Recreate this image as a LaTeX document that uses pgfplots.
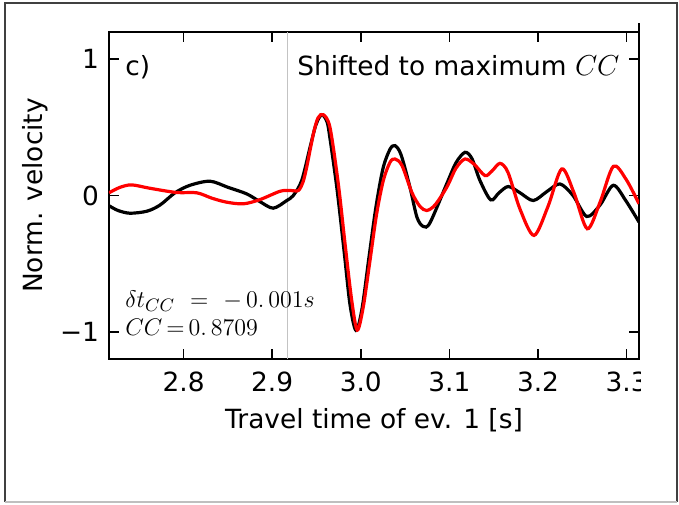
\documentclass[border=0pt]{standalone}
\usepackage[no-math]{fontspec}
\setmainfont{DejaVu Sans}
\usepackage{pgfplots}
\pgfplotsset{compat=1.18}

\pgfplotstableread{
x y
2.7158 -0.075
2.7260 -0.11
2.7395 -0.13
2.7587 -0.115
2.7734 -0.07
2.7903 0.02
2.8072 0.075
2.8298 0.105
2.8501 0.06
2.8712 0.012
2.8862 -0.045
2.9012 -0.093
2.9164 -0.037
2.9238 0.0
2.9333 0.11
2.9427 0.353
2.9494 0.52
2.9559 0.593
2.9619 0.54
2.9652 0.42
2.9731 0.05
2.9810 -0.40
2.9878 -0.80
2.9946 -0.99
3.0014 -0.83
3.0093 -0.45
3.0172 -0.08
3.0251 0.20
3.0330 0.34
3.0386 0.366
3.0454 0.30
3.0555 0.06
3.0634 -0.16
3.0705 -0.227
3.0781 -0.20
3.0970 0.086
3.1074 0.24
3.1176 0.317
3.1255 0.27
3.1345 0.11
3.1466 -0.032
3.1560 0.02
3.1665 0.066
3.1797 0.02
3.1947 -0.037
3.2102 0.03
3.2248 0.085
3.2395 0.0
3.2550 -0.154
3.2700 -0.07
3.2850 0.075
3.2993 -0.04
3.3140 -0.195
}\blacktab

\pgfplotstableread{
x y
2.7158 0.02
2.7282 0.06
2.7414 0.078
2.7621 0.053
2.7922 0.022
2.8148 0.02
2.8321 -0.02
2.8486 -0.049
2.8674 -0.061
2.8862 -0.03
2.9088 0.031
2.9201 0.037
2.9295 0.037
2.9348 0.10
2.9389 0.207
2.9464 0.45
2.9517 0.57
2.9577 0.593
2.9652 0.50
2.9746 0.086
2.9822 -0.353
2.9897 -0.768
2.9960 -0.988
3.0028 -0.817
3.0104 -0.476
3.0179 -0.134
3.0254 0.11
3.0330 0.244
3.0386 0.268
3.0465 0.22
3.0578 0.02
3.0668 -0.08
3.0744 -0.11
3.0837 -0.07
3.0970 0.06
3.1074 0.20
3.1176 0.268
3.1278 0.23
3.1402 0.146
3.1481 0.18
3.1571 0.236
3.1661 0.17
3.1797 -0.10
3.1955 -0.293
3.2113 -0.08
3.2268 0.195
3.2406 0.02
3.2556 -0.244
3.2700 -0.05
3.2850 0.214
3.2993 0.12
3.3140 -0.061
}\redtab

\begin{document}
\begin{tikzpicture}[font=\fontsize{13.2}{16}\selectfont]
\useasboundingbox (0,0) rectangle (339.5pt,-252pt);
\fill[white] (0,0) rectangle (339.5pt,-252pt);
\draw[black!75, line width=0.6pt] (2.5pt,-251pt) -- (2.5pt,-1.5pt) -- (338.5pt,-1.5pt) -- (338.5pt,-251pt);
\draw[black!25, line width=0.6pt] (2.5pt,-251pt) -- (338.5pt,-251pt);
\draw[black, line width=1.3pt] (319.5pt,-11.5pt) -- (319.5pt,-16pt);
\begin{scope}
\clip (0,0) rectangle (320.3pt,-252pt);
\begin{axis}[
  at={(54.5pt,-179.5pt)}, anchor=south west,
  width=265pt, height=163.5pt, scale only axis,
  xmin=2.7158, xmax=3.314, ymin=-1.2, ymax=1.2,
  axis line style={line width=1.35pt},
  tick style={black, line width=0.8pt},
  major tick length=5pt,
  tick align=inside,
  xtick={2.8,2.9,3.0,3.1,3.2,3.3},
  xticklabels={2.8,2.9,3.0,3.1,3.2,3.3},
  ytick={-1,0,1},
  yticklabels={−1,0,1},
  xticklabel style={yshift=-3pt},
  yticklabel style={xshift=-1.5pt},
  xlabel={Travel time of ev. 1 [s]},
  ylabel={Norm. velocity},
  xlabel style={at={(axis description cs:0.5,-0.1865)}, anchor=center},
  ylabel style={at={(axis description cs:-0.1396,0.5)}, anchor=center},
]
\addplot[color={rgb,255:red,195;green,195;blue,195}, line width=0.8pt] coordinates {(2.9174,-1.2) (2.9174,1.2)};
\addplot[black, line width=1.6pt, smooth] table[x=x,y=y] {\blacktab};
\addplot[red, line width=1.6pt, smooth] table[x=x,y=y] {\redtab};
\node[anchor=base west, inner sep=0pt] at (axis description cs:0.03,0.8685) {c)};
\node[anchor=base east, inner sep=0pt] at (axis description cs:0.964,0.8685) {Shifted to maximum {\fontsize{14.5}{16}\selectfont$CC$}};
\node[anchor=base west, inner sep=0pt] at (axis description cs:0.03,0.159) {$\delta t_{CC}\ =\ -\,0.\,001s$};
\node[anchor=base west, inner sep=0pt] at (axis description cs:0.03,0.073) {$CC\,{=}\,0.\,8709$};
\end{axis}
\end{scope}
\end{tikzpicture}
\end{document}
